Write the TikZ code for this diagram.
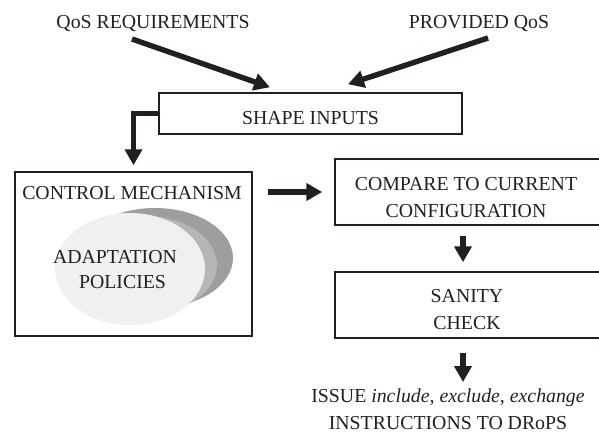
\documentclass[tikz,border=0pt]{standalone}
\usepackage{fontspec}
\setmainfont{Liberation Serif}
\usetikzlibrary{arrows.meta,calc}
\definecolor{ink}{RGB}{35,31,32}
\definecolor{ellD}{RGB}{158,158,158}
\definecolor{ellM}{RGB}{182,182,182}
\definecolor{ellL}{RGB}{240,240,241}
\tikzset{
  txt/.style={font=\fontsize{19.8pt}{27pt}\selectfont, text=ink, inner sep=0pt, align=center},
  boxnode/.style={draw=ink, line width=1.5pt, rectangle, inner sep=0pt},
  fatarrow/.style={draw=ink, line width=5.4pt, -{Triangle[length=16pt,width=17pt]}},
}
\begin{document}
\begin{tikzpicture}[x=1pt,y=-1pt]
\useasboundingbox (0,0) rectangle (599,436);

% labels
\node[txt] (req) at (153,24) {QoS REQUIREMENTS};
\node[txt] (prov) at (479,24) {PROVIDED QoS};

% boxes
\node[boxnode, minimum width=303pt, minimum height=41pt,
      label={[txt,yshift=-5pt]center:SHAPE INPUTS}] (shape) at (310.5,113.5) {};
\node[boxnode, minimum width=237pt, minimum height=164pt] (ctrl) at (133.5,254) {};
\node[boxnode, minimum width=266pt, minimum height=66pt,
      label={[txt,yshift=-6pt,xshift=-2pt]center:COMPARE TO CURRENT\\CONFIGURATION}] (cmp) at (468,192) {};
\node[boxnode, minimum width=266pt, minimum height=66pt,
      label={[txt,yshift=-5pt,xshift=-1pt]center:SANITY\\CHECK}] (san) at (468,305) {};

% ellipses inside control box
\fill[ellD] (155,258) ellipse [x radius=78pt, y radius=50pt];
\fill[ellM] (145,265) ellipse [x radius=72pt, y radius=49pt];
\fill[ellL] (130,269) ellipse [x radius=75pt, y radius=56pt];

\node[txt] (ctrltitle) at (132,193) {CONTROL MECHANISM};
\node[txt] (adapt) at (115,257) {ADAPTATION};
\node[txt] (pol) at (122.5,282) {POLICIES};

% bottom text
\node[txt] (out) at (448,409) {ISSUE \textit{include, exclude, exchange}\\INSTRUCTIONS TO DRoPS};

% connectors
\coordinate (reqtail) at (132,39);
\coordinate (provtail) at (488,38);
\coordinate (outtip) at (463,382);
\draw[fatarrow] (reqtail) -- ([xshift=-40.5pt,yshift=5pt]shape.north);
\draw[fatarrow] (provtail) -- ([xshift=37.5pt,yshift=8pt]shape.north);
\draw[fatarrow] (shape.west) -| ([yshift=6pt]ctrl.north);
\draw[fatarrow] ([xshift=15pt]ctrl.east |- cmp.west) -- ([xshift=-12pt]cmp.west);
\draw[fatarrow] ([xshift=-5pt,yshift=-10pt]cmp.south) -- ([xshift=-5pt,yshift=9pt]san.north);
\draw[fatarrow] ([xshift=-5pt,yshift=-14pt]san.south) -- (outtip);
\end{tikzpicture}
\end{document}
